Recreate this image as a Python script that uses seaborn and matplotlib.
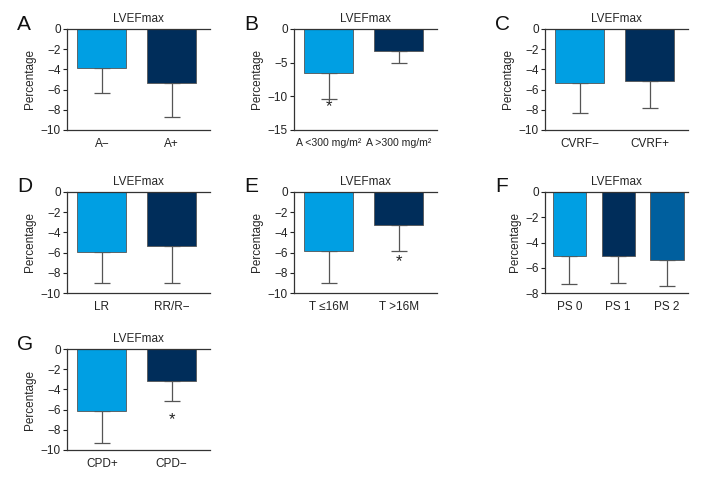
import matplotlib

matplotlib.use("Agg")
import matplotlib.pyplot as plt
import numpy as np
import pandas as pd
import seaborn as sns

LIGHT = "#009FE3"
DARK = "#002D5A"
MID = "#005F9E"
EDGE = "#555555"

# values (mean change, lower SD length)
a_groups = ["A\u2212", "A+"]
a_means = [-3.83, -5.38]
a_sd = [2.47, 3.30]

b_groups = ["A <300 mg/m\u00b2", "A >300 mg/m\u00b2"]
b_means = [-6.58, -3.22]
b_sd = [3.82, 1.88]
b_stars = [-11.5, None]

c_groups = ["CVRF\u2212", "CVRF+"]
c_means = [-5.38, -5.12]
c_sd = [2.97, 2.73]

d_groups = ["LR", "RR/R\u2212"]
d_means = [-5.97, -5.35]
d_sd = [3.03, 3.63]

e_groups = ["T \u226416M", "T >16M"]
e_means = [-5.84, -3.30]
e_sd = [3.16, 2.54]
e_stars = [None, -6.9]

f_groups = ["PS 0", "PS 1", "PS 2"]
f_means = [-5.04, -5.04, -5.36]
f_sd = [2.22, 2.16, 2.08]

g_groups = ["CPD+", "CPD\u2212"]
g_means = [-6.09, -3.18]
g_sd = [3.18, 1.92]
g_stars = [None, -6.95]

PANELS = [
    ("A", a_groups, a_means, a_sd, None, (-10, 0), 2, [LIGHT, DARK]),
    ("B", b_groups, b_means, b_sd, b_stars, (-15, 0), 5, [LIGHT, DARK]),
    ("C", c_groups, c_means, c_sd, None, (-10, 0), 2, [LIGHT, DARK]),
    ("D", d_groups, d_means, d_sd, None, (-10, 0), 2, [LIGHT, DARK]),
    ("E", e_groups, e_means, e_sd, e_stars, (-10, 0), 2, [LIGHT, DARK]),
    ("F", f_groups, f_means, f_sd, None, (-8, 0), 2, [LIGHT, DARK, MID]),
    ("G", g_groups, g_means, g_sd, g_stars, (-10, 0), 2, [LIGHT, DARK]),
]

# axes boxes in pixels (left, top) on a 720x480 canvas
LEFTS = [67, 294, 545]
TOPS = [29, 192, 349]
AX_W, AX_H = 143, 101
W, H = 720, 480

sns.set_style("white")
plt.rcParams["font.family"] = ["Liberation Sans", "DejaVu Sans"]
plt.rcParams["axes.unicode_minus"] = True

fig = plt.figure(figsize=(7.2, 4.8), dpi=100)

for i, (letter, groups, means, sd, stars, ylim, step, colors) in enumerate(PANELS):
    row, col = divmod(i, 3)
    left, top = LEFTS[col], TOPS[row]
    ax = fig.add_axes([left / W, 1 - (top + AX_H) / H, AX_W / W, AX_H / H])
    df = pd.DataFrame({"group": groups, "value": means})
    n = len(groups)
    sns.barplot(data=df, x="group", y="value", hue="group", palette=colors,
                order=groups, hue_order=groups, legend=False, saturation=1,
                width=0.68 if n == 3 else 0.7,
                edgecolor=EDGE, linewidth=0.6, errorbar=None, ax=ax, zorder=2)
    xs = np.arange(n)
    ax.errorbar(xs, means, yerr=[sd, np.zeros(n)], fmt="none", ecolor=EDGE,
                elinewidth=0.9, capsize=6, capthick=0.9, zorder=1)
    if stars:
        for x, s in zip(xs, stars):
            if s is not None:
                ax.text(x, s, "*", ha="center", va="center", fontsize=12,
                        color="#222222")
    ax.set_ylim(*ylim)
    ax.set_yticks(np.arange(ylim[0], 1, step))
    ax.set_xlim(-0.5, n - 1 + (0.43 if n == 3 else 0.55))
    ax.spines["right"].set_visible(False)
    for side in ["left", "top", "bottom"]:
        ax.spines[side].set_color("#333333")
        ax.spines[side].set_linewidth(0.9)
    ax.tick_params(axis="y", direction="out", length=3, width=0.8,
                   labelsize=8.5, pad=1.5, left=True, colors="#222222")
    ax.tick_params(axis="x", length=0, labelsize=7.6 if letter == "B" else 8.5,
                   pad=6, colors="#222222")
    ax.set_xlabel("")
    ax.set_ylabel("Percentage", fontsize=8.5, labelpad=3)
    ax.set_title("LVEFmax", fontsize=8.5, pad=5)
    fig.text((left - 50) / W, 1 - (top - 5) / H, letter, fontsize=15,
             ha="left", va="center", color="#111111")

fig.savefig("out.png", dpi=100)
plt.close(fig)
